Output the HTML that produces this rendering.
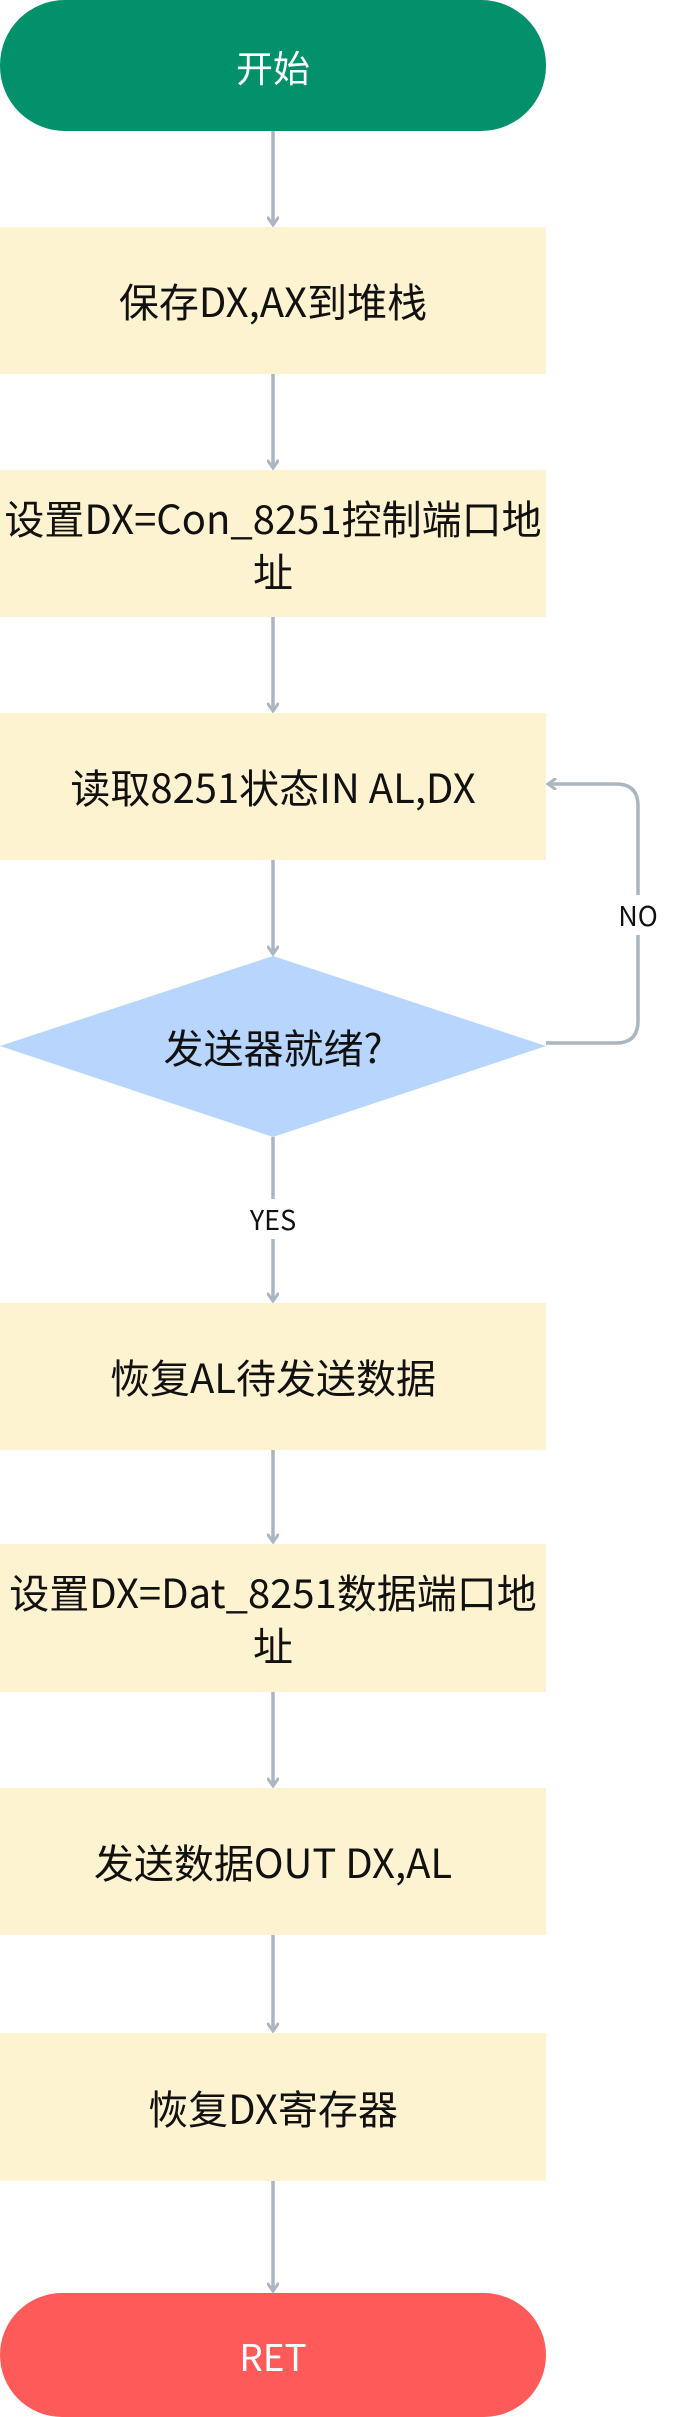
<!DOCTYPE html>
<html><head><meta charset="utf-8"><style>
body{margin:0;width:673px;height:2417px;position:relative;background:#fff;font-family:"Noto Sans CJK SC","Liberation Sans",sans-serif;overflow:hidden}
.b{position:absolute;left:0;width:546px;background:#fef3d0;display:flex;align-items:center;justify-content:center;text-align:center;font-size:40px;color:#111;line-height:1.32;box-sizing:border-box;padding:0 4px}
.t{position:absolute;left:0;width:546px;border-radius:65px;display:flex;align-items:center;justify-content:center;color:#fff;font-size:37px}
.l{position:absolute;font-size:27px;color:#111;background:#fff;text-align:center}
</style></head><body>
<svg style="position:absolute;left:0;top:0" width="673" height="2417">
<defs><marker id="a" markerWidth="12" markerHeight="12" refX="9" refY="6" orient="auto" markerUnits="userSpaceOnUse"><path d="M2,1 L9,6 L2,11" fill="none" stroke="#aab6c0" stroke-width="3" stroke-linecap="round"/></marker></defs>
<polygon points="273,956 546,1046 273,1137 0,1046" fill="#b8d5fd"/>
<g stroke="#aab6c0" stroke-width="3.5" fill="none" marker-end="url(#a)">
<line x1="273" y1="131" x2="273" y2="225"/>
<line x1="273" y1="374" x2="273" y2="468"/>
<line x1="273" y1="617" x2="273" y2="711"/>
<line x1="273" y1="860" x2="273" y2="954"/>
<line x1="273" y1="1137" x2="273" y2="1301"/>
<line x1="273" y1="1450" x2="273" y2="1542"/>
<line x1="273" y1="1692" x2="273" y2="1786"/>
<line x1="273" y1="1935" x2="273" y2="2031"/>
<line x1="273" y1="2181" x2="273" y2="2291"/>
<path d="M546,1043 H616 Q638,1043 638,1021 V806 Q638,784 616,784 H548"/>
</g>
</svg>
<div class="t" style="top:0;height:131px;background:#02916b">开始</div>
<div class="b" style="top:227px;height:147px">保存DX,AX到堆栈</div>
<div class="b" style="top:470px;height:147px">设置DX=Con_8251控制端口地址</div>
<div class="b" style="top:713px;height:147px">读取8251状态IN AL,DX</div>
<div style="position:absolute;left:0;top:1000px;width:546px;height:92px;display:flex;align-items:center;justify-content:center;font-size:40px;color:#111">发送器就绪?</div>
<div class="l" style="left:611px;top:895px;width:54px;height:40px;line-height:40px">NO</div>
<div class="l" style="left:238px;top:1199px;width:70px;height:40px;line-height:40px">YES</div>
<div class="b" style="top:1303px;height:147px">恢复AL待发送数据</div>
<div class="b" style="top:1544px;height:148px">设置DX=Dat_8251数据端口地址</div>
<div class="b" style="top:1788px;height:147px">发送数据OUT DX,AL</div>
<div class="b" style="top:2033px;height:148px">恢复DX寄存器</div>
<div class="t" style="top:2293px;height:124px;background:#ff5a5a">RET</div>
</body></html>
